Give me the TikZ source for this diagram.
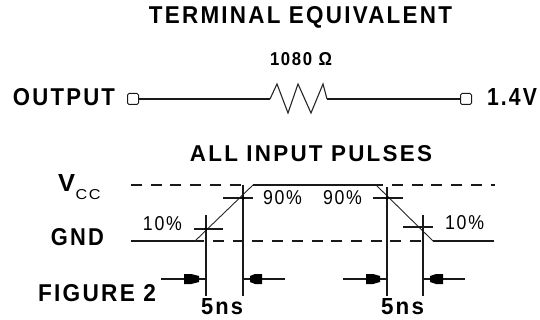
\documentclass[tikz,border=0pt]{standalone}
\usepackage{graphicx}
\usepackage{fontspec}
\setmainfont{Liberation Sans}
\newfontfamily\spaced[LetterSpace=10]{Liberation Sans}
\newcommand{\fitbold}[3]{\resizebox{#1pt}{#2pt}{\spaced\bfseries #3}}
\newcommand{\fitreg}[3]{\resizebox{#1pt}{#2pt}{\spaced #3}}
\tikzset{
  txt/.style={inner sep=0pt,outer sep=0pt,text=black},
  wire/.style={draw=black!90,line width=1.4pt},
  thin wire/.style={draw=black!85,line width=0.9pt},
  dashline/.style={draw=black!90,line width=1.2pt,dash pattern=on 11pt off 8.7pt},
  term/.style={draw=black!90,line width=1pt,fill=white,rounded corners=1.5pt,minimum width=11pt,minimum height=11pt,inner sep=0pt,outer sep=0pt},
  head/.style={fill=black,draw=none}
}
\begin{document}
\begin{tikzpicture}[x=1pt,y=-1pt]
\useasboundingbox (0,0) rectangle (540,320);
\fill[white] (0,0) rectangle (540,320);
% titles
\node[txt] (title) at (300.5,17) {\fitbold{303}{17}{TERMINAL EQUIVALENT}};
\node[txt] (ohm) at (301,59) {\fitbold{62}{13}{1080 \symbol{"03A9}}};
\node[txt] (output) at (64,97) {\fitbold{102}{17}{OUTPUT}};
\node[txt] (volt) at (512,97) {\fitbold{50}{17}{1.4V}};
\node[txt] (pulses) at (311,154) {\fitbold{242}{16}{ALL INPUT PULSES}};
\node[txt] (v) at (66.5,183) {\fitbold{17}{17}{V}};
\node[txt] (cc) at (88,195) {\fitreg{25}{10}{CC}};
\node[txt] (gnd) at (77.5,237.5) {\fitbold{53}{17}{GND}};
\node[txt] (fig) at (97,293.5) {\fitbold{118}{17}{FIGURE 2}};
\node[txt] (t1) at (222,306.5) {\fitbold{42}{16}{5ns}};
\node[txt] (t2) at (402.5,306.5) {\fitbold{43}{16}{5ns}};
\node[txt] (p10a) at (162.5,224) {\fitreg{39}{14}{10\%}};
\node[txt] (p90a) at (282.5,198) {\fitreg{39}{14}{90\%}};
\node[txt] (p90b) at (342.5,198) {\fitreg{39}{14}{90\%}};
\node[txt] (p10b) at (464.5,223) {\fitreg{39}{14}{10\%}};
% terminal equivalent
\node[term] (ta) at (133,99) {};
\node[term] (tb) at (466,99) {};
\coordinate (r0) at (270,99);
\coordinate (r1) at (327,99);
\draw[wire] (ta) -- (r0);
\draw[thin wire,line width=1.1pt] (r0) -- (277,84) -- (288,113) -- (298,84) -- (311,113) -- (323,84) -- (r1);
\draw[wire] (r1) -- (tb);
% levels
\coordinate (vl) at (131,185);
\coordinate (vr) at (495,185);
\coordinate (gl) at (131,241);
\coordinate (gr) at (494,241);
\coordinate (rtop) at (253,185);
\coordinate (ftop) at (383,185);
\coordinate (rbot) at (195,241);
\coordinate (fbot) at (433,241);
\draw[dashline] (vl) -- (243,185);
\draw[dashline] (392,185) -- (vr);
\draw[wire] (rtop) -- (ftop);
\draw[wire] (gl) -- (204,241);
\draw[dashline] (213,241) -- (425,241);
\draw[wire] (fbot) -- (gr);
\draw[thin wire] (rbot) -- (rtop);
\draw[thin wire] (376,185) -- (fbot);
% vertical markers
\coordinate (va) at (206,215); \coordinate (vaE) at (206,296);
\coordinate (vb) at (243,185); \coordinate (vbE) at (243,296);
\coordinate (vc) at (387,187); \coordinate (vcE) at (387,296);
\coordinate (vd) at (423,215); \coordinate (vdE) at (423,296);
\draw[wire] (va) -- (vaE);
\draw[wire] (vb) -- (vbE);
\draw[wire] (vc) -- (vcE);
\draw[wire] (vd) -- (vdE);
% ticks
\draw[wire] (194,229) -- (223,229);
\draw[wire] (223,198) -- (253,198);
\draw[wire] (373,198) -- (403,198);
\draw[wire] (403,227) -- (433,227);
% dimension arrows
\draw[wire] (161,279) -- (206,279);
\draw[wire] (243,279) -- (285,279);
\draw[wire] (343,279) -- (387,279);
\draw[wire] (423,279) -- (465,279);
\fill[head] (184,274) -- (191,274) -- (199,276) -- (199,282) -- (191,284) -- (184,284) -- cycle;
\fill[head] (262,274) -- (255,274) -- (250,276) -- (250,282) -- (255,284) -- (262,284) -- cycle;
\fill[head] (366,274) -- (373,274) -- (380,276) -- (380,282) -- (373,284) -- (366,284) -- cycle;
\fill[head] (443,274) -- (436,274) -- (430,276) -- (430,282) -- (436,284) -- (443,284) -- cycle;
% junction dots
\fill (206,229) circle (1.8pt);
\fill (243,198) circle (1.8pt);
\fill (387,198) circle (1.8pt);
\end{tikzpicture}
\end{document}
